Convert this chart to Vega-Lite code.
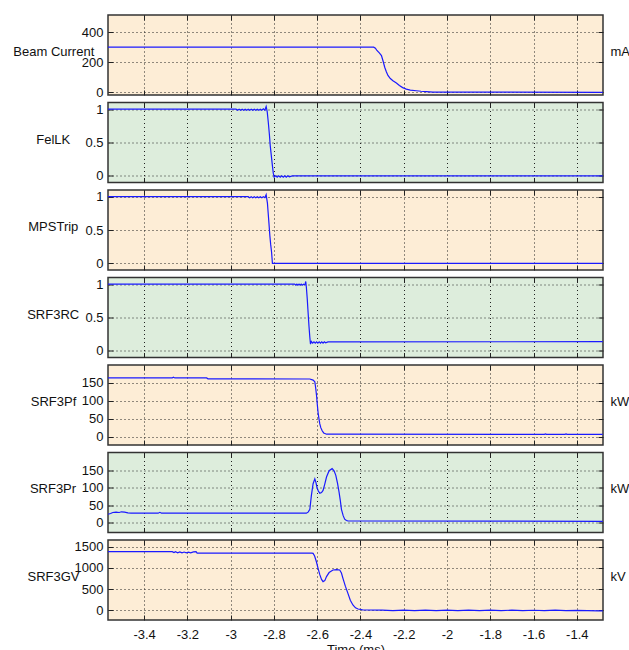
{
  "$schema": "https://vega.github.io/schema/vega-lite/v6.json",
  "padding": {"left": 12, "top": 13, "right": 5, "bottom": 0},
  "spacing": 7.5,
  "bounds": "flush",
  "resolve": {"scale": {"x": "independent", "y": "independent"}},
  "datasets": {
    "beam": [{"t":-3.567,"v":300},{"t":-2.339,"v":300},{"t":-2.331,"v":293},{"t":-2.324,"v":278},{"t":-2.313,"v":262},{"t":-2.303,"v":244},{"t":-2.295,"v":205},{"t":-2.288,"v":167},{"t":-2.28,"v":135},{"t":-2.273,"v":113},{"t":-2.262,"v":92},{"t":-2.25,"v":78},{"t":-2.234,"v":63},{"t":-2.22,"v":46},{"t":-2.205,"v":32},{"t":-2.188,"v":22},{"t":-2.17,"v":15},{"t":-2.142,"v":11},{"t":-2.12,"v":8},{"t":-2.096,"v":6},{"t":-2.065,"v":2},{"t":-1.28,"v":1}],
    "fel": [{"t":-3.567,"v":1},{"t":-2.975,"v":1},{"t":-2.968,"v":0.985},{"t":-2.961,"v":1},{"t":-2.954,"v":0.985},{"t":-2.947,"v":1},{"t":-2.94,"v":0.985},{"t":-2.933,"v":1},{"t":-2.926,"v":0.985},{"t":-2.919,"v":1},{"t":-2.912,"v":0.985},{"t":-2.905,"v":1},{"t":-2.898,"v":0.985},{"t":-2.891,"v":1},{"t":-2.884,"v":0.985},{"t":-2.877,"v":1},{"t":-2.87,"v":0.985},{"t":-2.863,"v":1},{"t":-2.856,"v":0.985},{"t":-2.849,"v":1.005},{"t":-2.842,"v":0.985},{"t":-2.836,"v":1.04},{"t":-2.831,"v":0.96},{"t":-2.826,"v":0.8},{"t":-2.821,"v":0.62},{"t":-2.817,"v":0.45},{"t":-2.812,"v":0.3},{"t":-2.807,"v":0.15},{"t":-2.803,"v":0.04},{"t":-2.799,"v":-0.02},{"t":-2.792,"v":0},{"t":-2.785,"v":-0.02},{"t":-2.778,"v":0},{"t":-2.771,"v":-0.02},{"t":-2.764,"v":0},{"t":-2.757,"v":-0.02},{"t":-2.75,"v":0},{"t":-2.743,"v":-0.02},{"t":-2.736,"v":0},{"t":-2.729,"v":-0.015},{"t":-2.715,"v":0},{"t":-1.28,"v":0}],
    "mps": [{"t":-3.567,"v":1},{"t":-2.919,"v":1},{"t":-2.912,"v":0.985},{"t":-2.905,"v":1},{"t":-2.898,"v":0.985},{"t":-2.891,"v":1},{"t":-2.884,"v":0.985},{"t":-2.877,"v":1},{"t":-2.87,"v":0.985},{"t":-2.863,"v":1},{"t":-2.856,"v":0.985},{"t":-2.849,"v":1},{"t":-2.842,"v":0.985},{"t":-2.836,"v":1.03},{"t":-2.83,"v":0.9},{"t":-2.827,"v":0.77},{"t":-2.823,"v":0.6},{"t":-2.819,"v":0.42},{"t":-2.815,"v":0.28},{"t":-2.811,"v":0.17},{"t":-2.807,"v":0},{"t":-1.28,"v":0}],
    "rc": [{"t":-3.567,"v":1},{"t":-2.704,"v":1},{"t":-2.699,"v":0.985},{"t":-2.694,"v":1},{"t":-2.689,"v":0.985},{"t":-2.684,"v":1},{"t":-2.679,"v":0.985},{"t":-2.674,"v":1},{"t":-2.669,"v":0.985},{"t":-2.664,"v":1},{"t":-2.66,"v":0.99},{"t":-2.656,"v":1},{"t":-2.653,"v":1.04},{"t":-2.65,"v":0.95},{"t":-2.646,"v":0.78},{"t":-2.643,"v":0.62},{"t":-2.638,"v":0.37},{"t":-2.634,"v":0.2},{"t":-2.631,"v":0.1},{"t":-2.627,"v":0.14},{"t":-2.621,"v":0.115},{"t":-2.615,"v":0.135},{"t":-2.609,"v":0.115},{"t":-2.603,"v":0.135},{"t":-2.597,"v":0.115},{"t":-2.591,"v":0.135},{"t":-2.585,"v":0.115},{"t":-2.579,"v":0.135},{"t":-2.573,"v":0.115},{"t":-2.567,"v":0.135},{"t":-2.561,"v":0.12},{"t":-2.55,"v":0.135},{"t":-1.28,"v":0.137}],
    "pf": [{"t":-3.567,"v":163},{"t":-3.27,"v":163},{"t":-3.265,"v":165},{"t":-3.258,"v":163},{"t":-3.111,"v":163},{"t":-3.105,"v":160.5},{"t":-2.634,"v":160},{"t":-2.619,"v":157},{"t":-2.611,"v":152},{"t":-2.607,"v":135},{"t":-2.603,"v":114},{"t":-2.6,"v":92},{"t":-2.596,"v":67},{"t":-2.592,"v":50},{"t":-2.588,"v":35},{"t":-2.583,"v":24},{"t":-2.577,"v":16},{"t":-2.57,"v":10},{"t":-2.557,"v":6.5},{"t":-1.55,"v":6},{"t":-1.545,"v":7.5},{"t":-1.54,"v":6},{"t":-1.455,"v":6},{"t":-1.45,"v":7.5},{"t":-1.445,"v":6},{"t":-1.28,"v":6}],
    "pr": [{"t":-3.567,"v":24},{"t":-3.555,"v":26},{"t":-3.545,"v":29},{"t":-3.53,"v":30},{"t":-3.515,"v":29},{"t":-3.505,"v":31},{"t":-3.49,"v":30},{"t":-3.475,"v":28},{"t":-3.46,"v":27},{"t":-3.335,"v":27},{"t":-3.327,"v":29.5},{"t":-3.32,"v":27},{"t":-2.65,"v":27},{"t":-2.642,"v":30},{"t":-2.634,"v":38},{"t":-2.627,"v":77},{"t":-2.619,"v":111},{"t":-2.611,"v":125},{"t":-2.606,"v":115},{"t":-2.601,"v":101},{"t":-2.595,"v":90},{"t":-2.588,"v":84},{"t":-2.58,"v":86},{"t":-2.573,"v":92},{"t":-2.565,"v":110},{"t":-2.557,"v":130},{"t":-2.545,"v":148},{"t":-2.531,"v":154},{"t":-2.522,"v":148},{"t":-2.514,"v":135},{"t":-2.506,"v":112},{"t":-2.499,"v":87},{"t":-2.493,"v":62},{"t":-2.488,"v":38},{"t":-2.48,"v":20},{"t":-2.473,"v":10},{"t":-2.465,"v":6},{"t":-2.458,"v":5},{"t":-1.8,"v":4.5},{"t":-1.28,"v":3.5}],
    "gv": [{"t":-3.567,"v":1382},{"t":-3.27,"v":1382},{"t":-3.262,"v":1360},{"t":-3.255,"v":1382},{"t":-3.245,"v":1355},{"t":-3.235,"v":1375},{"t":-3.225,"v":1352},{"t":-3.215,"v":1372},{"t":-3.205,"v":1352},{"t":-3.195,"v":1370},{"t":-3.185,"v":1355},{"t":-3.172,"v":1375},{"t":-3.16,"v":1380},{"t":-3.155,"v":1345},{"t":-2.625,"v":1345},{"t":-2.619,"v":1340},{"t":-2.612,"v":1280},{"t":-2.604,"v":1150},{"t":-2.596,"v":990},{"t":-2.588,"v":840},{"t":-2.58,"v":730},{"t":-2.573,"v":677},{"t":-2.565,"v":700},{"t":-2.557,"v":795},{"t":-2.545,"v":890},{"t":-2.527,"v":950},{"t":-2.51,"v":960},{"t":-2.496,"v":950},{"t":-2.488,"v":880},{"t":-2.481,"v":755},{"t":-2.47,"v":570},{"t":-2.458,"v":400},{"t":-2.447,"v":240},{"t":-2.435,"v":127},{"t":-2.423,"v":60},{"t":-2.411,"v":33},{"t":-2.39,"v":15},{"t":-2.373,"v":10},{"t":-2.3,"v":5},{"t":-2.25,"v":-5},{"t":-2.2,"v":8},{"t":-2.15,"v":-3},{"t":-2.1,"v":5},{"t":-2.05,"v":-6},{"t":-2.0,"v":6},{"t":-1.95,"v":-4},{"t":-1.9,"v":5},{"t":-1.85,"v":-5},{"t":-1.8,"v":6},{"t":-1.75,"v":-3},{"t":-1.7,"v":5},{"t":-1.65,"v":-6},{"t":-1.6,"v":4},{"t":-1.55,"v":-3},{"t":-1.5,"v":5},{"t":-1.45,"v":-5},{"t":-1.4,"v":3},{"t":-1.35,"v":-6},{"t":-1.3,"v":-10},{"t":-1.28,"v":-12}]
  },
  "vconcat": [
    {
      "width": 495, "height": 80,
      "view": {"fill": "#FDEDD6", "stroke": "#333", "strokeWidth": 1.5},
      "data": {"name": "beam"},
      "layer": [
        {"mark": {"type": "line", "color": "#1a1aff", "strokeWidth": 1.2},
         "encoding": {
           "x": {"field": "t", "type": "quantitative", "scale": {"domain": [-3.567, -1.279], "nice": false, "zero": false}, "axis": {"orient": "bottom", "values": [-3.4,-3.2,-3,-2.8,-2.6,-2.4,-2.2,-2,-1.8,-1.6,-1.4], "grid": true, "labels": false, "title": null}},
           "y": {"field": "v", "type": "quantitative", "scale": {"domain": [-17, 513], "nice": false, "zero": false}, "axis": {"orient": "left", "values": [0, 200, 400], "format": "d", "grid": true, "title": "Beam Current", "titleAngle": 0, "titleAlign": "center", "titleBaseline": "middle", "titleX": -54.7, "titleY": 36.5}}
         }},
        {"mark": {"type": "line", "opacity": 0},
         "encoding": {
           "x": {"field": "t", "type": "quantitative", "axis": {"orient": "top", "values": [-3.4,-3.2,-3,-2.8,-2.6,-2.4,-2.2,-2,-1.8,-1.6,-1.4], "grid": false, "labels": false, "title": null}},
           "y": {"field": "v", "type": "quantitative", "axis": {"orient": "right", "values": [0, 200, 400], "grid": false, "labels": false, "title": "mA", "titleAngle": 0, "titleAlign": "left", "titleBaseline": "middle", "titleX": 7, "titleY": 36.5}}
         }}
      ],
      "resolve": {"axis": {"x": "independent", "y": "independent"}}
    },
    {
      "width": 495, "height": 80,
      "view": {"fill": "#DDEDDC", "stroke": "#333", "strokeWidth": 1.5},
      "data": {"name": "fel"},
      "layer": [
        {"mark": {"type": "line", "color": "#1a1aff", "strokeWidth": 1.2},
         "encoding": {
           "x": {"field": "t", "type": "quantitative", "scale": {"domain": [-3.567, -1.279], "nice": false, "zero": false}, "axis": {"orient": "bottom", "values": [-3.4,-3.2,-3,-2.8,-2.6,-2.4,-2.2,-2,-1.8,-1.6,-1.4], "grid": true, "labels": false, "title": null}},
           "y": {"field": "v", "type": "quantitative", "scale": {"domain": [-0.1, 1.1], "nice": false, "zero": false}, "axis": {"orient": "left", "values": [0, 0.5, 1], "format": "~g", "grid": true, "title": "FelLK", "titleAngle": 0, "titleAlign": "center", "titleBaseline": "middle", "titleX": -55.2, "titleY": 36.5}}
         }},
        {"mark": {"type": "line", "opacity": 0},
         "encoding": {
           "x": {"field": "t", "type": "quantitative", "axis": {"orient": "top", "values": [-3.4,-3.2,-3,-2.8,-2.6,-2.4,-2.2,-2,-1.8,-1.6,-1.4], "grid": false, "labels": false, "title": null}},
           "y": {"field": "v", "type": "quantitative", "axis": {"orient": "right", "values": [0, 0.5, 1], "grid": false, "labels": false, "title": null}}
         }}
      ],
      "resolve": {"axis": {"x": "independent", "y": "independent"}}
    },
    {
      "width": 495, "height": 80,
      "view": {"fill": "#FDEDD6", "stroke": "#333", "strokeWidth": 1.5},
      "data": {"name": "mps"},
      "layer": [
        {"mark": {"type": "line", "color": "#1a1aff", "strokeWidth": 1.2},
         "encoding": {
           "x": {"field": "t", "type": "quantitative", "scale": {"domain": [-3.567, -1.279], "nice": false, "zero": false}, "axis": {"orient": "bottom", "values": [-3.4,-3.2,-3,-2.8,-2.6,-2.4,-2.2,-2,-1.8,-1.6,-1.4], "grid": true, "labels": false, "title": null}},
           "y": {"field": "v", "type": "quantitative", "scale": {"domain": [-0.1, 1.1], "nice": false, "zero": false}, "axis": {"orient": "left", "values": [0, 0.5, 1], "format": "~g", "grid": true, "title": "MPSTrip", "titleAngle": 0, "titleAlign": "center", "titleBaseline": "middle", "titleX": -55.2, "titleY": 36.5}}
         }},
        {"mark": {"type": "line", "opacity": 0},
         "encoding": {
           "x": {"field": "t", "type": "quantitative", "axis": {"orient": "top", "values": [-3.4,-3.2,-3,-2.8,-2.6,-2.4,-2.2,-2,-1.8,-1.6,-1.4], "grid": false, "labels": false, "title": null}},
           "y": {"field": "v", "type": "quantitative", "axis": {"orient": "right", "values": [0, 0.5, 1], "grid": false, "labels": false, "title": null}}
         }}
      ],
      "resolve": {"axis": {"x": "independent", "y": "independent"}}
    },
    {
      "width": 495, "height": 80,
      "view": {"fill": "#DDEDDC", "stroke": "#333", "strokeWidth": 1.5},
      "data": {"name": "rc"},
      "layer": [
        {"mark": {"type": "line", "color": "#1a1aff", "strokeWidth": 1.2},
         "encoding": {
           "x": {"field": "t", "type": "quantitative", "scale": {"domain": [-3.567, -1.279], "nice": false, "zero": false}, "axis": {"orient": "bottom", "values": [-3.4,-3.2,-3,-2.8,-2.6,-2.4,-2.2,-2,-1.8,-1.6,-1.4], "grid": true, "labels": false, "title": null}},
           "y": {"field": "v", "type": "quantitative", "scale": {"domain": [-0.1, 1.1], "nice": false, "zero": false}, "axis": {"orient": "left", "values": [0, 0.5, 1], "format": "~g", "grid": true, "title": "SRF3RC", "titleAngle": 0, "titleAlign": "center", "titleBaseline": "middle", "titleX": -55.3, "titleY": 36.5}}
         }},
        {"mark": {"type": "line", "opacity": 0},
         "encoding": {
           "x": {"field": "t", "type": "quantitative", "axis": {"orient": "top", "values": [-3.4,-3.2,-3,-2.8,-2.6,-2.4,-2.2,-2,-1.8,-1.6,-1.4], "grid": false, "labels": false, "title": null}},
           "y": {"field": "v", "type": "quantitative", "axis": {"orient": "right", "values": [0, 0.5, 1], "grid": false, "labels": false, "title": null}}
         }}
      ],
      "resolve": {"axis": {"x": "independent", "y": "independent"}}
    },
    {
      "width": 495, "height": 80,
      "view": {"fill": "#FDEDD6", "stroke": "#333", "strokeWidth": 1.5},
      "data": {"name": "pf"},
      "layer": [
        {"mark": {"type": "line", "color": "#1a1aff", "strokeWidth": 1.2},
         "encoding": {
           "x": {"field": "t", "type": "quantitative", "scale": {"domain": [-3.567, -1.279], "nice": false, "zero": false}, "axis": {"orient": "bottom", "values": [-3.4,-3.2,-3,-2.8,-2.6,-2.4,-2.2,-2,-1.8,-1.6,-1.4], "grid": true, "labels": false, "title": null}},
           "y": {"field": "v", "type": "quantitative", "scale": {"domain": [-23.5, 199], "nice": false, "zero": false}, "axis": {"orient": "left", "values": [0, 50, 100, 150], "format": "d", "grid": true, "title": "SRF3Pf", "titleAngle": 0, "titleAlign": "center", "titleBaseline": "middle", "titleX": -55, "titleY": 36}}
         }},
        {"mark": {"type": "line", "opacity": 0},
         "encoding": {
           "x": {"field": "t", "type": "quantitative", "axis": {"orient": "top", "values": [-3.4,-3.2,-3,-2.8,-2.6,-2.4,-2.2,-2,-1.8,-1.6,-1.4], "grid": false, "labels": false, "title": null}},
           "y": {"field": "v", "type": "quantitative", "axis": {"orient": "right", "values": [0, 50, 100, 150], "grid": false, "labels": false, "title": "kW", "titleAngle": 0, "titleAlign": "left", "titleBaseline": "middle", "titleX": 7, "titleY": 36.5}}
         }}
      ],
      "resolve": {"axis": {"x": "independent", "y": "independent"}}
    },
    {
      "width": 495, "height": 80,
      "view": {"fill": "#DDEDDC", "stroke": "#333", "strokeWidth": 1.5},
      "data": {"name": "pr"},
      "layer": [
        {"mark": {"type": "line", "color": "#1a1aff", "strokeWidth": 1.2},
         "encoding": {
           "x": {"field": "t", "type": "quantitative", "scale": {"domain": [-3.567, -1.279], "nice": false, "zero": false}, "axis": {"orient": "bottom", "values": [-3.4,-3.2,-3,-2.8,-2.6,-2.4,-2.2,-2,-1.8,-1.6,-1.4], "grid": true, "labels": false, "title": null}},
           "y": {"field": "v", "type": "quantitative", "scale": {"domain": [-28, 200], "nice": false, "zero": false}, "axis": {"orient": "left", "values": [0, 50, 100, 150], "format": "d", "grid": true, "title": "SRF3Pr", "titleAngle": 0, "titleAlign": "center", "titleBaseline": "middle", "titleX": -55.5, "titleY": 36}}
         }},
        {"mark": {"type": "line", "opacity": 0},
         "encoding": {
           "x": {"field": "t", "type": "quantitative", "axis": {"orient": "top", "values": [-3.4,-3.2,-3,-2.8,-2.6,-2.4,-2.2,-2,-1.8,-1.6,-1.4], "grid": false, "labels": false, "title": null}},
           "y": {"field": "v", "type": "quantitative", "axis": {"orient": "right", "values": [0, 50, 100, 150], "grid": false, "labels": false, "title": "kW", "titleAngle": 0, "titleAlign": "left", "titleBaseline": "middle", "titleX": 7, "titleY": 36}}
         }}
      ],
      "resolve": {"axis": {"x": "independent", "y": "independent"}}
    },
    {
      "width": 495, "height": 80,
      "view": {"fill": "#FDEDD6", "stroke": "#333", "strokeWidth": 1.5},
      "data": {"name": "gv"},
      "layer": [
        {"mark": {"type": "line", "color": "#1a1aff", "strokeWidth": 1.2},
         "encoding": {
           "x": {"field": "t", "type": "quantitative", "scale": {"domain": [-3.567, -1.279], "nice": false, "zero": false}, "axis": {"orient": "bottom", "values": [-3.4,-3.2,-3,-2.8,-2.6,-2.4,-2.2,-2,-1.8,-1.6,-1.4], "format": "~g", "labelExpr": "replace(datum.label, '−', '-')", "grid": true, "labels": true, "labelPadding": 13, "title": "Time (ms)", "titlePadding": 2}},
           "y": {"field": "v", "type": "quantitative", "scale": {"domain": [-225, 1655], "nice": false, "zero": false}, "axis": {"orient": "left", "values": [0, 500, 1000, 1500], "format": "d", "grid": true, "title": "SRF3GV", "titleAngle": 0, "titleAlign": "center", "titleBaseline": "middle", "titleX": -55, "titleY": 36.5}}
         }},
        {"mark": {"type": "line", "opacity": 0},
         "encoding": {
           "x": {"field": "t", "type": "quantitative", "axis": {"orient": "top", "values": [-3.4,-3.2,-3,-2.8,-2.6,-2.4,-2.2,-2,-1.8,-1.6,-1.4], "grid": false, "labels": false, "title": null}},
           "y": {"field": "v", "type": "quantitative", "axis": {"orient": "right", "values": [0, 500, 1000, 1500], "grid": false, "labels": false, "title": "kV", "titleAngle": 0, "titleAlign": "left", "titleBaseline": "middle", "titleX": 7, "titleY": 36.5}}
         }}
      ],
      "resolve": {"axis": {"x": "independent", "y": "independent"}}
    }
  ],
  "config": {
    "font": "Liberation Sans",
    "axis": {"labelFont": "Liberation Sans", "labelFontSize": 13, "labelColor": "#111", "titleFont": "Liberation Sans", "titleFontSize": 13, "titleFontWeight": "normal", "titleColor": "#111", "domain": false, "tickColor": "#222", "tickSize": -5, "tickWidth": 1, "gridColor": "#222", "gridDash": [1, 3], "gridWidth": 1, "gridOpacity": 1, "labelPadding": 10, "labelFlush": false, "labelOverlap": false},
    "view": {"stroke": "#333", "strokeWidth": 1.5}
  }
}
